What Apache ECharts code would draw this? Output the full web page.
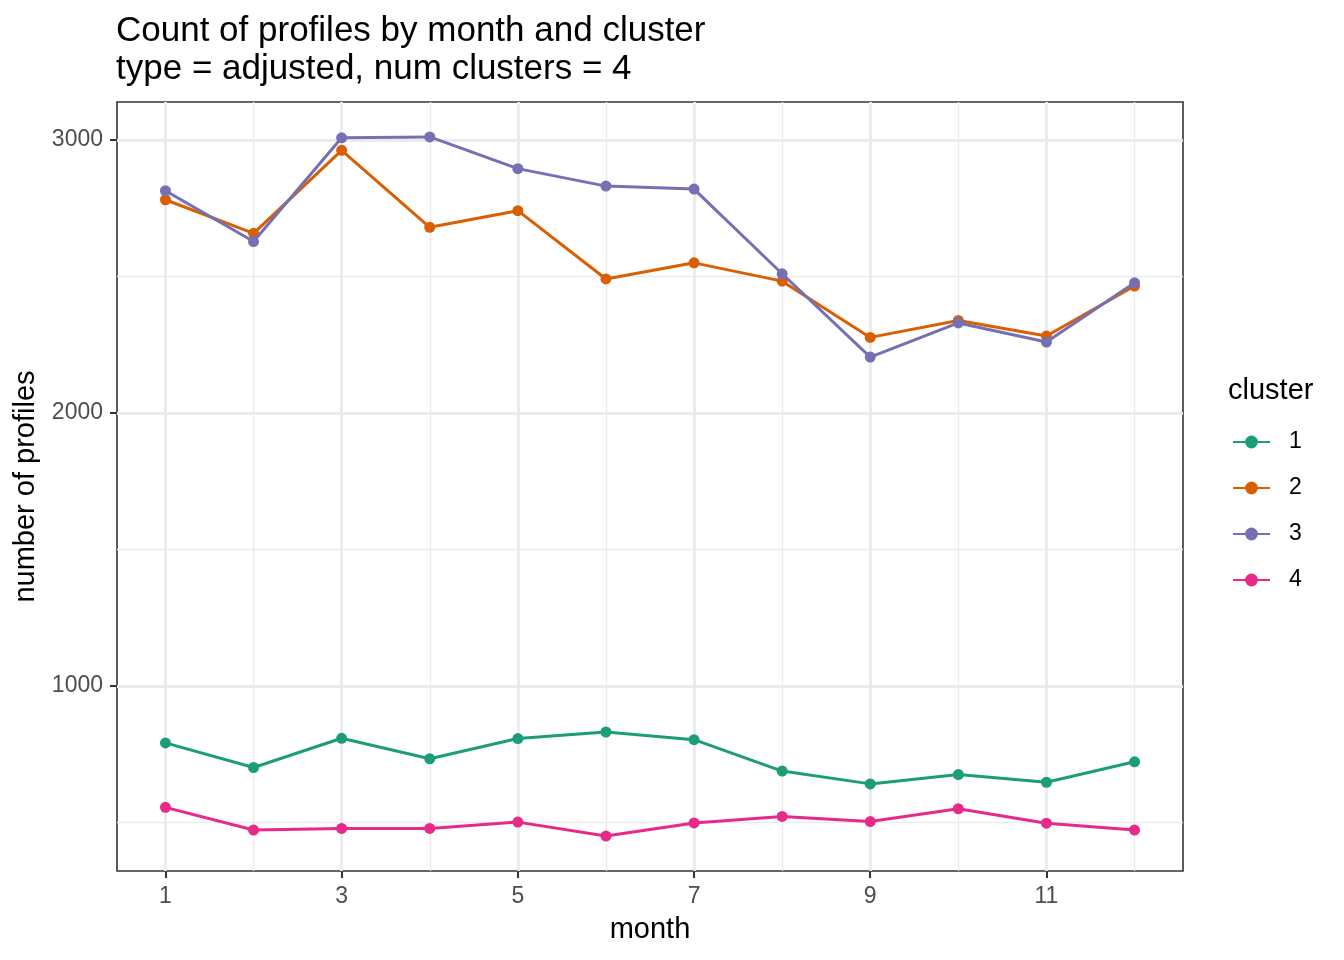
<!DOCTYPE html>
<html>
<head>
<meta charset="utf-8">
<script src="https://cdn.jsdelivr.net/npm/echarts@6/dist/echarts.min.js"></script>
<style>
html,body{margin:0;padding:0;background:#fff;}
#chart{width:1344px;height:960px;}
</style>
</head>
<body>
<div id="chart"></div>
<script>
const months = [1,2,3,4,5,6,7,8,9,10,11,12];
const clusterNames = ['1','2','3','4'];
const cluster1 = [792,702,809,734,808,832,804,689,642,676,648,723];
const cluster2 = [2781,2658,2962,2680,2741,2491,2550,2483,2277,2339,2282,2465];
const cluster3 = [2814,2628,3008,3011,2895,2831,2820,2510,2205,2330,2260,2477];
const cluster4 = [556,473,479,479,502,451,499,523,504,551,498,473];
const xMajorTicks = [1,3,5,7,9,11];
const xMinorTicks = [2,4,6,8,10,12];
const yMajorTicks = [1000,2000,3000];
const yMinorTicks = [500,1500,2500];
const colors = ['#1B9E77','#D95F02','#7570B3','#E7298A'];

const allVals = [].concat(cluster1, cluster2, cluster3, cluster4);
const yLo = Math.min.apply(null, allVals), yHi = Math.max.apply(null, allVals);
const yPad = (yHi - yLo) * 0.05;
const xPad = (months[months.length-1] - months[0]) * 0.05;
const xMin = months[0] - xPad, xMax = months[months.length-1] + xPad;

const seriesData = [cluster1, cluster2, cluster3, cluster4];
const font = 'Liberation Sans, Arial, Helvetica, sans-serif';

function hiddenAxis(base, ticks, width) {
  return Object.assign({}, base, {
    axisLine: {show: false},
    axisLabel: {show: false},
    axisTick: {show: false, customValues: ticks},
    splitLine: {show: true, lineStyle: {color: '#ebebeb', width: width}}
  });
}

const xBase = {type: 'value', min: xMin, max: xMax, position: 'bottom'};
const yBase = {type: 'value', min: yLo - yPad, max: yHi + yPad, position: 'left'};

const chart = echarts.init(document.getElementById('chart'), null, {renderer: 'canvas'});
chart.setOption({
  animation: false,
  backgroundColor: '#ffffff',
  textStyle: {fontFamily: font},
  title: [
    {text: 'Count of profiles by month and cluster\ntype = adjusted, num clusters = 4',
     left: 116, top: 12, padding: 0,
     textStyle: {fontSize: 35, fontWeight: 'normal', color: '#000', lineHeight: 38, fontFamily: font}},
    {text: 'cluster', left: 1228, top: 376, padding: 0,
     textStyle: {fontSize: 29, fontWeight: 'normal', color: '#000', fontFamily: font}}
  ],
  legend: {
    orient: 'vertical', left: 1232, top: 430.5, padding: 0,
    itemWidth: 37, itemHeight: 16, itemGap: 23,
    data: clusterNames,
    textStyle: {fontSize: 23, color: '#000', fontFamily: font, padding: [0,0,0,14], lineHeight: 23}
  },
  grid: {left: 117, right: 161, top: 102, bottom: 89, show: true,
         borderColor: '#333333', borderWidth: 1.6, backgroundColor: '#fff', containLabel: false},
  xAxis: [
    hiddenAxis(xBase, xMinorTicks, 1.4),
    Object.assign({}, xBase, {
      name: 'month', nameLocation: 'middle', nameGap: 44,
      nameTextStyle: {fontSize: 29, color: '#000', fontFamily: font},
      axisLine: {show: false},
      axisTick: {show: true, customValues: xMajorTicks, length: 7, lineStyle: {color: '#333333', width: 2}},
      axisLabel: {show: true, customValues: xMajorTicks, margin: 14, fontSize: 23, color: '#4d4d4d', fontFamily: font,
                  formatter: function(v) { return String(v); }},
      splitLine: {show: true, lineStyle: {color: '#ebebeb', width: 2.8}}
    })
  ],
  yAxis: [
    hiddenAxis(yBase, yMinorTicks, 1.4),
    Object.assign({}, yBase, {
      name: 'number of profiles', nameLocation: 'middle', nameGap: 75,
      nameTextStyle: {fontSize: 29, color: '#000', fontFamily: font},
      axisLine: {show: false},
      axisTick: {show: true, customValues: yMajorTicks, length: 7, lineStyle: {color: '#333333', width: 2}},
      axisLabel: {show: true, customValues: yMajorTicks, margin: 14, fontSize: 23, color: '#4d4d4d', fontFamily: font,
                  formatter: function(v) { return String(v); }},
      splitLine: {show: true, lineStyle: {color: '#ebebeb', width: 2.8}}
    })
  ],
  series: seriesData.map(function(vals, i) {
    return {
      name: clusterNames[i], type: 'line',
      xAxisIndex: 1, yAxisIndex: 1,
      data: months.map(function(m, j) { return [m, vals[j]]; }),
      symbol: 'circle', symbolSize: 11, showSymbol: true,
      lineStyle: {color: colors[i], width: 3},
      itemStyle: {color: colors[i]},
      emphasis: {disabled: true},
      z: 3 + i
    };
  })
});
</script>
</body>
</html>
